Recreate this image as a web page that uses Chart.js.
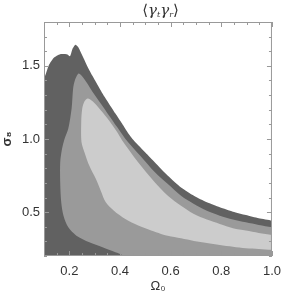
<!DOCTYPE html>
<html lang="en">
<head>
  <meta charset="UTF-8">
  <title>gamma_t gamma_r</title>
  <script src="https://cdn.jsdelivr.net/npm/chart.js"></script>
  <style>
    body {
      margin: 0;
      background: #ffffff;
    }

    .wrap {
      position: relative;
      width: 289px;
      height: 296px;
    }

    /* titulo em HTML por causa dos subscritos */
    .titulo {
      position: absolute;
      left: 44px;
      width: 233px;
      top: 0;
      text-align: center;
      font: 15px "DejaVu Serif", serif;
      line-height: 20px;
      color: #333;
    }

    .titulo i {
      font-style: italic;
    }

    .titulo sub {
      font-size: 8px;
      vertical-align: -2px;
      font-style: italic;
    }
  </style>
</head>
<body>
  <div class="wrap">
    <canvas id="contornoChart" width="289" height="296"></canvas>
    <div class="titulo">&#10216;<i>&gamma;</i><sub>t</sub><i>&gamma;</i><sub>r</sub>&#10217;</div>
  </div>

  <script>
    // contorno externo (cinza escuro) - borda superior
    const omegaDark = [0.08, 0.10, 0.119, 0.138, 0.164, 0.19, 0.203, 0.213, 0.224, 0.235, 0.254, 0.279, 0.305, 0.331, 0.356, 0.382, 0.408, 0.433, 0.459, 0.50, 0.538, 0.589, 0.641, 0.692, 0.743, 0.794, 0.846, 0.897, 0.948, 1.0, 1.02];
    const sigmaDark = [1.38, 1.413, 1.504, 1.554, 1.579, 1.579, 1.566, 1.618, 1.645, 1.629, 1.561, 1.47, 1.39, 1.311, 1.243, 1.174, 1.106, 1.038, 0.981, 0.908, 0.84, 0.749, 0.669, 0.612, 0.567, 0.533, 0.503, 0.48, 0.458, 0.442, 0.436];

    // contorno do meio (cinza medio) - poligono fechado
    const omegaMid = [0.415, 0.408, 0.382, 0.331, 0.279, 0.228, 0.196, 0.177, 0.168, 0.164, 0.164, 0.171, 0.181, 0.196, 0.209, 0.215, 0.222, 0.235, 0.247, 0.267, 0.292, 0.324, 0.356, 0.388, 0.42, 0.48, 0.538, 0.589, 0.641, 0.692, 0.743, 0.794, 0.846, 0.897, 0.948, 1.0, 1.03, 1.03];
    const sigmaMid = [0.17, 0.207, 0.226, 0.26, 0.294, 0.339, 0.396, 0.476, 0.567, 0.703, 0.84, 0.931, 1.0, 1.072, 1.208, 1.345, 1.402, 1.447, 1.436, 1.39, 1.322, 1.243, 1.163, 1.083, 1.004, 0.885, 0.772, 0.692, 0.612, 0.556, 0.51, 0.476, 0.449, 0.43, 0.412, 0.397, 0.39, 0.17];

    // contorno interno (cinza claro) - poligono fechado
    const omegaLight = [1.03, 1.0, 0.948, 0.897, 0.846, 0.794, 0.743, 0.692, 0.641, 0.589, 0.538, 0.47, 0.408, 0.388, 0.356, 0.324, 0.292, 0.273, 0.26, 0.251, 0.247, 0.248, 0.26, 0.279, 0.305, 0.324, 0.344, 0.376, 0.421, 0.472, 0.523, 0.562, 0.589, 0.641, 0.692, 0.743, 0.794, 0.846, 0.897, 0.948, 1.0, 1.03];
    const sigmaLight = [0.34, 0.344, 0.358, 0.374, 0.39, 0.419, 0.449, 0.487, 0.544, 0.612, 0.703, 0.845, 0.992, 1.049, 1.129, 1.197, 1.258, 1.277, 1.258, 1.208, 1.117, 0.98, 0.908, 0.817, 0.726, 0.647, 0.567, 0.51, 0.453, 0.408, 0.374, 0.351, 0.339, 0.321, 0.303, 0.289, 0.276, 0.264, 0.253, 0.248, 0.242, 0.24];

    const xTicks = [0.2, 0.4, 0.6, 0.8, 1.0];
    const yTicks = [0.5, 1.0, 1.5];
    const xMinorStep = 0.05;
    const yMinorStep = 0.1;

    const cores = {
      escuro: '#616161',
      medio: '#9a9a9a',
      claro: '#cccccc',
      eixo: '#999999',
      texto: '#333333'
    };

    function pontos(xs, ys) {
      return xs.map((x, i) => ({ x: x, y: ys[i] }));
    }

    // moldura e tracinhos para dentro, nos quatro lados
    const molduraIDL = {
      id: 'molduraIDL',
      afterDatasetsDraw(chart) {
        const ctx = chart.ctx;
        const a = chart.chartArea;
        const sx = chart.scales.x;
        const sy = chart.scales.y;
        ctx.save();
        ctx.strokeStyle = cores.eixo;
        ctx.lineWidth = 1;
        ctx.strokeRect(a.left + 0.5, a.top + 0.5, a.right - a.left - 1, a.bottom - a.top - 1);
        ctx.beginPath();
        const nx = Math.round((sx.max - sx.min) / xMinorStep);
        for (let i = 0; i <= nx; i++) {
          const v = sx.min + i * xMinorStep;
          const px = Math.round(sx.getPixelForValue(v)) + 0.5;
          const len = xTicks.some(t => Math.abs(t - v) < 1e-6) ? 5 : 3;
          ctx.moveTo(px, a.bottom);
          ctx.lineTo(px, a.bottom - len);
          ctx.moveTo(px, a.top);
          ctx.lineTo(px, a.top + len);
        }
        const ny = Math.round((sy.max - sy.min) / yMinorStep);
        for (let j = 0; j <= ny; j++) {
          const v = sy.min + j * yMinorStep;
          const py = Math.round(sy.getPixelForValue(v)) + 0.5;
          const len = yTicks.some(t => Math.abs(t - v) < 1e-6) ? 5 : 3;
          ctx.moveTo(a.left, py);
          ctx.lineTo(a.left + len, py);
          ctx.moveTo(a.right, py);
          ctx.lineTo(a.right - len, py);
        }
        ctx.stroke();
        ctx.restore();
      }
    };

    const fonte = { family: 'Liberation Sans, Arial, sans-serif', size: 13 };

    new Chart(document.getElementById('contornoChart').getContext('2d'), {
      type: 'scatter',
      data: {
        datasets: [
          {
            label: 'interno',
            data: pontos(omegaLight, sigmaLight),
            showLine: true,
            fill: 'shape',
            backgroundColor: cores.claro,
            borderColor: 'rgba(0,0,0,0)',
            borderWidth: 1,
            pointRadius: 0,
            tension: 0.3
          },
          {
            label: 'meio',
            data: pontos(omegaMid, sigmaMid),
            showLine: true,
            fill: 'shape',
            backgroundColor: cores.medio,
            borderColor: 'rgba(0,0,0,0)',
            borderWidth: 1,
            pointRadius: 0,
            tension: 0.3
          },
          {
            label: 'externo',
            data: pontos(omegaDark, sigmaDark),
            showLine: true,
            fill: 'start',
            backgroundColor: cores.escuro,
            borderColor: 'rgba(0,0,0,0)',
            borderWidth: 1,
            pointRadius: 0,
            tension: 0.2
          }
        ]
      },
      options: {
        responsive: false,
        animation: false,
        layout: {
          padding: { left: 0, right: 12, top: 22, bottom: 0 }
        },
        plugins: {
          legend: { display: false },
          tooltip: { enabled: false }
        },
        scales: {
          x: {
            type: 'linear',
            min: 0.1,
            max: 1.0,
            afterFit: s => { s.height = 40; },
            afterBuildTicks: s => { s.ticks = xTicks.map(v => ({ value: v })); },
            grid: { display: false, drawTicks: false },
            border: { display: false },
            ticks: {
              color: cores.texto,
              font: fonte,
              padding: 8,
              maxRotation: 0,
              callback: v => v.toFixed(1)
            },
            title: {
              display: true,
              text: 'Ω₀',
              color: cores.texto,
              font: fonte,
              padding: { top: 0, bottom: 2 }
            }
          },
          y: {
            type: 'linear',
            min: 0.2,
            max: 1.8,
            afterFit: s => { s.width = 44; },
            afterBuildTicks: s => { s.ticks = yTicks.map(v => ({ value: v })); },
            grid: { display: false, drawTicks: false },
            border: { display: false },
            ticks: {
              color: cores.texto,
              font: fonte,
              padding: 4,
              callback: v => v.toFixed(1)
            },
            title: {
              display: true,
              text: 'σ₈',
              color: cores.texto,
              font: { family: fonte.family, size: 13, weight: 'bold' },
              padding: { top: 0, bottom: 0 }
            }
          }
        }
      },
      plugins: [molduraIDL]
    });
  </script>
</body>
</html>
